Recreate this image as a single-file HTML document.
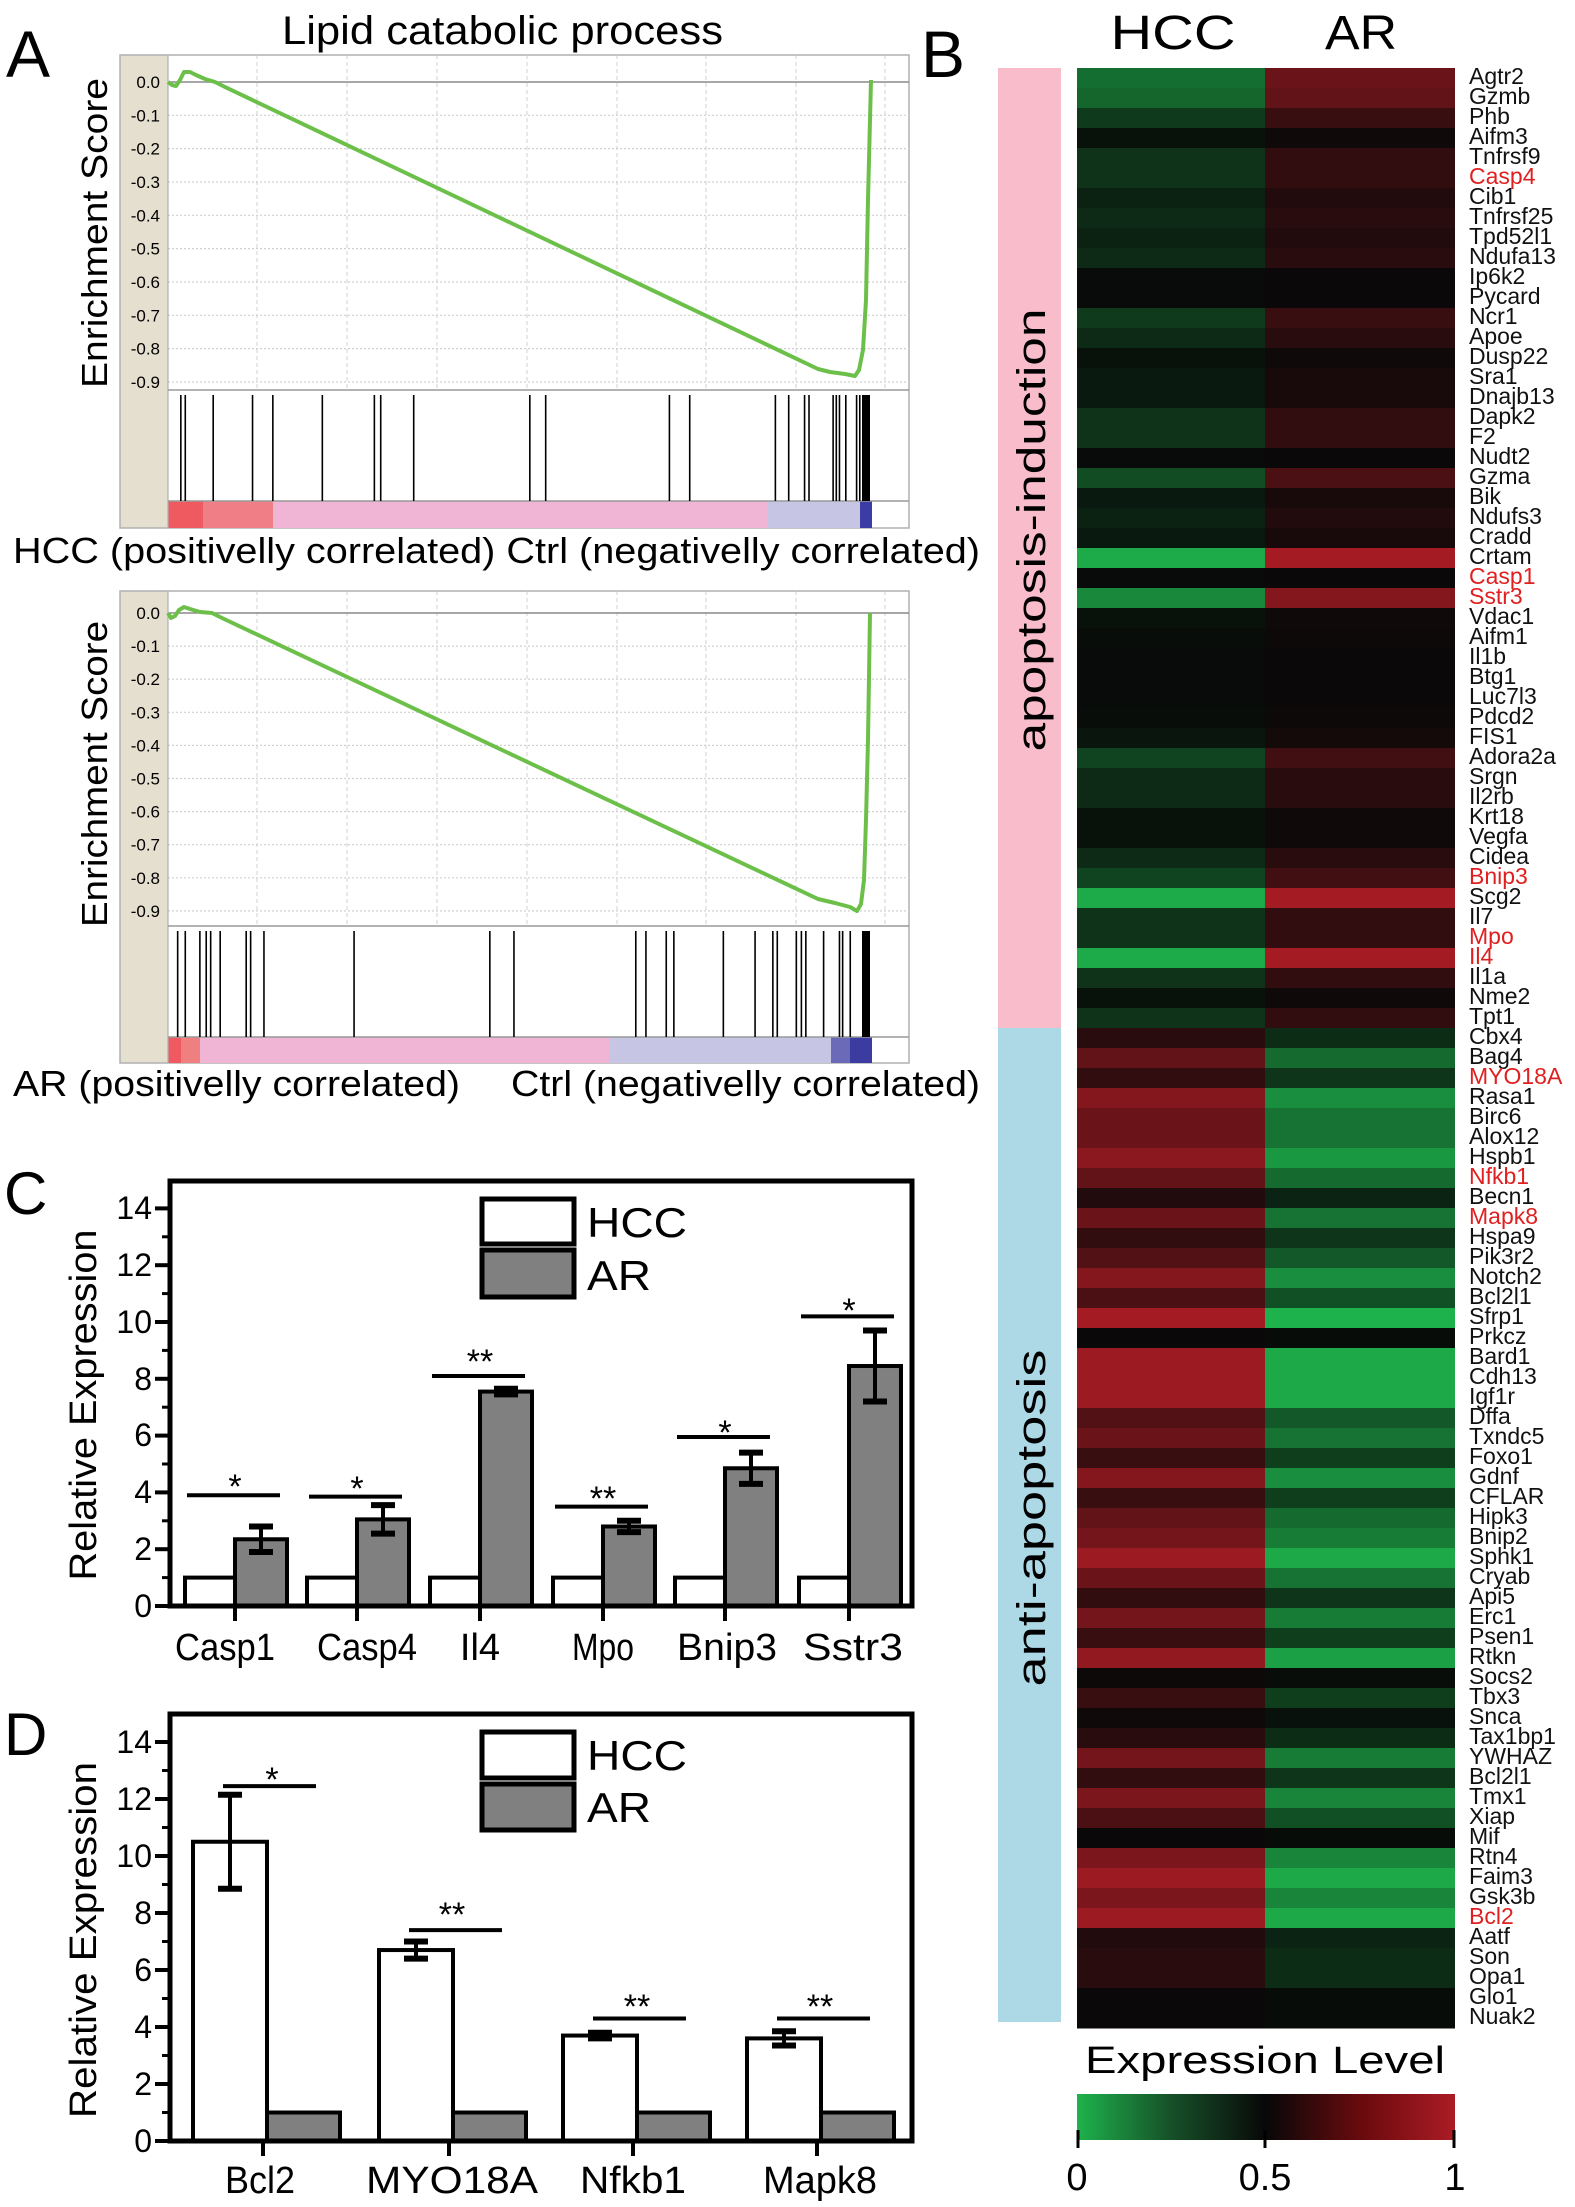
<!DOCTYPE html>
<html><head><meta charset="utf-8">
<style>
html,body{margin:0;padding:0;background:#fff;}
svg{display:block;}
text{font-family:"Liberation Sans",Arial,sans-serif;}
</style></head>
<body>
<svg id="s" width="1575" height="2207" viewBox="0 0 1575 2207" xmlns="http://www.w3.org/2000/svg">
<rect width="1575" height="2207" fill="#fff"/>
<g id="gsea"></g>
<g id="heat"></g>
<g id="bars"></g>

<!-- Panel letters -->
<text x="6" y="77" font-size="66">A</text>
<text x="921" y="77" font-size="66">B</text>
<text x="4" y="1214" font-size="60">C</text>
<text x="4" y="1755" font-size="60">D</text>

<!-- GSEA texts -->
<text x="282" y="44" font-size="40" textLength="441" lengthAdjust="spacingAndGlyphs">Lipid catabolic process</text>
<text transform="translate(107,233) rotate(-90)" text-anchor="middle" font-size="36" textLength="310" lengthAdjust="spacingAndGlyphs">Enrichment Score</text>
<text transform="translate(107,774) rotate(-90)" text-anchor="middle" font-size="36" textLength="306" lengthAdjust="spacingAndGlyphs">Enrichment Score</text>
<text x="13" y="563" font-size="36" textLength="967" lengthAdjust="spacingAndGlyphs">HCC (positivelly correlated) Ctrl (negativelly correlated)</text>
<text x="13" y="1096" font-size="36" textLength="447" lengthAdjust="spacingAndGlyphs">AR (positivelly correlated)</text>
<text x="511" y="1096" font-size="36" textLength="469" lengthAdjust="spacingAndGlyphs">Ctrl (negativelly correlated)</text>
<g font-size="17" text-anchor="end" id="esTicks"></g>

<!-- Heatmap texts -->
<text x="1173" y="49" font-size="48" text-anchor="middle" textLength="125" lengthAdjust="spacingAndGlyphs">HCC</text>
<text x="1361" y="49" font-size="48" text-anchor="middle" textLength="72" lengthAdjust="spacingAndGlyphs">AR</text>
<text transform="translate(1045,530) rotate(-90)" text-anchor="middle" font-size="40" textLength="443" lengthAdjust="spacingAndGlyphs">apoptosis-induction</text>
<text transform="translate(1045,1518) rotate(-90)" text-anchor="middle" font-size="40" textLength="337" lengthAdjust="spacingAndGlyphs">anti-apoptosis</text>
<text x="1469" y="64" font-size="23" fill="#111" style="line-height:20px"><tspan x="1469" dy="20">Agtr2</tspan><tspan x="1469" dy="20">Gzmb</tspan><tspan x="1469" dy="20">Phb</tspan><tspan x="1469" dy="20">Aifm3</tspan><tspan x="1469" dy="20">Tnfrsf9</tspan><tspan x="1469" dy="20" fill="#e02020">Casp4</tspan><tspan x="1469" dy="20">Cib1</tspan><tspan x="1469" dy="20">Tnfrsf25</tspan><tspan x="1469" dy="20">Tpd52l1</tspan><tspan x="1469" dy="20">Ndufa13</tspan><tspan x="1469" dy="20">Ip6k2</tspan><tspan x="1469" dy="20">Pycard</tspan><tspan x="1469" dy="20">Ncr1</tspan><tspan x="1469" dy="20">Apoe</tspan><tspan x="1469" dy="20">Dusp22</tspan><tspan x="1469" dy="20">Sra1</tspan><tspan x="1469" dy="20">Dnajb13</tspan><tspan x="1469" dy="20">Dapk2</tspan><tspan x="1469" dy="20">F2</tspan><tspan x="1469" dy="20">Nudt2</tspan><tspan x="1469" dy="20">Gzma</tspan><tspan x="1469" dy="20">Bik</tspan><tspan x="1469" dy="20">Ndufs3</tspan><tspan x="1469" dy="20">Cradd</tspan><tspan x="1469" dy="20">Crtam</tspan><tspan x="1469" dy="20" fill="#e02020">Casp1</tspan><tspan x="1469" dy="20" fill="#e02020">Sstr3</tspan><tspan x="1469" dy="20">Vdac1</tspan><tspan x="1469" dy="20">Aifm1</tspan><tspan x="1469" dy="20">Il1b</tspan><tspan x="1469" dy="20">Btg1</tspan><tspan x="1469" dy="20">Luc7l3</tspan><tspan x="1469" dy="20">Pdcd2</tspan><tspan x="1469" dy="20">FIS1</tspan><tspan x="1469" dy="20">Adora2a</tspan><tspan x="1469" dy="20">Srgn</tspan><tspan x="1469" dy="20">Il2rb</tspan><tspan x="1469" dy="20">Krt18</tspan><tspan x="1469" dy="20">Vegfa</tspan><tspan x="1469" dy="20">Cidea</tspan><tspan x="1469" dy="20" fill="#e02020">Bnip3</tspan><tspan x="1469" dy="20">Scg2</tspan><tspan x="1469" dy="20">Il7</tspan><tspan x="1469" dy="20" fill="#e02020">Mpo</tspan><tspan x="1469" dy="20" fill="#e02020">Il4</tspan><tspan x="1469" dy="20">Il1a</tspan><tspan x="1469" dy="20">Nme2</tspan><tspan x="1469" dy="20">Tpt1</tspan><tspan x="1469" dy="20">Cbx4</tspan><tspan x="1469" dy="20">Bag4</tspan><tspan x="1469" dy="20" fill="#e02020">MYO18A</tspan><tspan x="1469" dy="20">Rasa1</tspan><tspan x="1469" dy="20">Birc6</tspan><tspan x="1469" dy="20">Alox12</tspan><tspan x="1469" dy="20">Hspb1</tspan><tspan x="1469" dy="20" fill="#e02020">Nfkb1</tspan><tspan x="1469" dy="20">Becn1</tspan><tspan x="1469" dy="20" fill="#e02020">Mapk8</tspan><tspan x="1469" dy="20">Hspa9</tspan><tspan x="1469" dy="20">Pik3r2</tspan><tspan x="1469" dy="20">Notch2</tspan><tspan x="1469" dy="20">Bcl2l1</tspan><tspan x="1469" dy="20">Sfrp1</tspan><tspan x="1469" dy="20">Prkcz</tspan><tspan x="1469" dy="20">Bard1</tspan><tspan x="1469" dy="20">Cdh13</tspan><tspan x="1469" dy="20">Igf1r</tspan><tspan x="1469" dy="20">Dffa</tspan><tspan x="1469" dy="20">Txndc5</tspan><tspan x="1469" dy="20">Foxo1</tspan><tspan x="1469" dy="20">Gdnf</tspan><tspan x="1469" dy="20">CFLAR</tspan><tspan x="1469" dy="20">Hipk3</tspan><tspan x="1469" dy="20">Bnip2</tspan><tspan x="1469" dy="20">Sphk1</tspan><tspan x="1469" dy="20">Cryab</tspan><tspan x="1469" dy="20">Api5</tspan><tspan x="1469" dy="20">Erc1</tspan><tspan x="1469" dy="20">Psen1</tspan><tspan x="1469" dy="20">Rtkn</tspan><tspan x="1469" dy="20">Socs2</tspan><tspan x="1469" dy="20">Tbx3</tspan><tspan x="1469" dy="20">Snca</tspan><tspan x="1469" dy="20">Tax1bp1</tspan><tspan x="1469" dy="20">YWHAZ</tspan><tspan x="1469" dy="20">Bcl2l1</tspan><tspan x="1469" dy="20">Tmx1</tspan><tspan x="1469" dy="20">Xiap</tspan><tspan x="1469" dy="20">Mif</tspan><tspan x="1469" dy="20">Rtn4</tspan><tspan x="1469" dy="20">Faim3</tspan><tspan x="1469" dy="20">Gsk3b</tspan><tspan x="1469" dy="20" fill="#e02020">Bcl2</tspan><tspan x="1469" dy="20">Aatf</tspan><tspan x="1469" dy="20">Son</tspan><tspan x="1469" dy="20">Opa1</tspan><tspan x="1469" dy="20">Glo1</tspan><tspan x="1469" dy="20">Nuak2</tspan></text>
<text x="1265" y="2073" font-size="38" text-anchor="middle" textLength="360" lengthAdjust="spacingAndGlyphs">Expression Level</text>
<text x="1077" y="2190" font-size="38" text-anchor="middle">0</text>
<text x="1265" y="2190" font-size="38" text-anchor="middle">0.5</text>
<text x="1455" y="2190" font-size="38" text-anchor="middle">1</text>

<!-- Bar chart texts C -->
<g font-size="32" text-anchor="end">
<text x="152" y="1617">0</text><text x="152" y="1560">2</text><text x="152" y="1503">4</text><text x="152" y="1446">6</text><text x="152" y="1390">8</text><text x="152" y="1333">10</text><text x="152" y="1276">12</text><text x="152" y="1219">14</text>
<text x="152" y="2152">0</text><text x="152" y="2095">2</text><text x="152" y="2038">4</text><text x="152" y="1981">6</text><text x="152" y="1924">8</text><text x="152" y="1867">10</text><text x="152" y="1810">12</text><text x="152" y="1753">14</text>
</g>
<text transform="translate(96,1405) rotate(-90)" text-anchor="middle" font-size="38" textLength="351" lengthAdjust="spacingAndGlyphs">Relative  Expression</text>
<text transform="translate(96,1940) rotate(-90)" text-anchor="middle" font-size="38" textLength="356" lengthAdjust="spacingAndGlyphs">Relative  Expression</text>
<g font-size="38" text-anchor="middle">
<text x="225" y="1660" textLength="100" lengthAdjust="spacingAndGlyphs">Casp1</text>
<text x="367" y="1660" textLength="100" lengthAdjust="spacingAndGlyphs">Casp4</text>
<text x="480" y="1660">Il4</text>
<text x="603" y="1660" textLength="62" lengthAdjust="spacingAndGlyphs">Mpo</text>
<text x="727" y="1660" textLength="100" lengthAdjust="spacingAndGlyphs">Bnip3</text>
<text x="853" y="1660" textLength="100" lengthAdjust="spacingAndGlyphs">Sstr3</text>
<text x="260" y="2193" textLength="70" lengthAdjust="spacingAndGlyphs">Bcl2</text>
<text x="452" y="2193" textLength="172" lengthAdjust="spacingAndGlyphs">MYO18A</text>
<text x="633" y="2193" textLength="106" lengthAdjust="spacingAndGlyphs">Nfkb1</text>
<text x="820" y="2193" textLength="114" lengthAdjust="spacingAndGlyphs">Mapk8</text>
</g>
<g font-size="42">
<text x="587" y="1237" textLength="100" lengthAdjust="spacingAndGlyphs">HCC</text>
<text x="587" y="1290" textLength="64" lengthAdjust="spacingAndGlyphs">AR</text>
<text x="587" y="1770" textLength="100" lengthAdjust="spacingAndGlyphs">HCC</text>
<text x="587" y="1822" textLength="64" lengthAdjust="spacingAndGlyphs">AR</text>
</g>
<g font-size="34" text-anchor="middle" id="stars">
<text x="235" y="1498">*</text>
<text x="357" y="1500">*</text>
<text x="480" y="1373">**</text>
<text x="603" y="1510">**</text>
<text x="725" y="1444">*</text>
<text x="849" y="1322">*</text>
<text x="272" y="1791">*</text>
<text x="452" y="1926">**</text>
<text x="637" y="2018">**</text>
<text x="820" y="2018">**</text>
</g>
</svg>
<script>
var NS="http://www.w3.org/2000/svg";
function el(p,t,a){var e=document.createElementNS(NS,t);for(var k in a)e.setAttribute(k,a[k]);p.appendChild(e);return e;}
// ---------- GSEA ----------
var G=document.getElementById('gsea');
function gsea(top,zero,scale,esBot,hitTop,cbTop,cbBot,pts,hits,cb){
  // beige strip
  el(G,'rect',{x:120,y:top,width:48,height:cbBot-top,fill:'#e4dfcf'});
  el(G,'rect',{x:120,y:top,width:789,height:cbBot-top,fill:'none',stroke:'#b0b0b0','stroke-width':1.5});
  // color bar
  cb.forEach(function(c){el(G,'rect',{x:c[0],y:cbTop,width:c[1]-c[0],height:cbBot-cbTop,fill:c[2]});});
  // grids
  var vx=[257,347,437,527,617,706,796,885];
  vx.forEach(function(x){el(G,'line',{x1:x,y1:top,x2:x,y2:esBot,stroke:'#d0d0d0','stroke-dasharray':'4,3','stroke-width':1});});
  for(var i=1;i<=9;i++){var y=zero+i*0.1*scale;el(G,'line',{x1:168,y1:y,x2:909,y2:y,stroke:'#d0d0d0','stroke-dasharray':'2,2','stroke-width':1.2});}
  el(G,'line',{x1:168,y1:zero,x2:909,y2:zero,stroke:'#8a8a8a','stroke-width':1.5});
  el(G,'line',{x1:168,y1:top,x2:168,y2:cbBot,stroke:'#b0b0b0','stroke-width':1.2});
  el(G,'line',{x1:168,y1:esBot,x2:909,y2:esBot,stroke:'#999','stroke-width':1.5});
  el(G,'line',{x1:168,y1:cbTop,x2:909,y2:cbTop,stroke:'#999','stroke-width':1.5});
  hits.forEach(function(x){el(G,'line',{x1:x,y1:hitTop,x2:x,y2:cbTop,stroke:'#000','stroke-width':1.6});});
  el(G,'rect',{x:862,y:hitTop,width:8,height:cbTop-hitTop,fill:'#000'});
  el(G,'polyline',{points:pts.map(function(p){return p.join(',');}).join(' '),fill:'none',stroke:'#6cc04a','stroke-width':4,'stroke-linejoin':'round'});
  var T=document.getElementById('esTicks');
  for(var i=0;i<=9;i++){var t=el(T,'text',{x:160,y:zero+i*0.1*scale+6});t.textContent=(i==0?'0.0':'-0.'+i);}
}
var s1=[285,292,336,398,430,508,590,600,652,835,860,1055,1087,1222,1243,1268,1275,1313,1318,1323,1333,1350,1355].map(function(x){return x/1.576;});
gsea(55,82,333.3,390,395,501,528,
 [[168,82],[172,85],[176,86],[180,80],[184,72],[190,72],[196,75],[205,79],[215,82],[225,87],[818,369],[830,372],[845,374],[855,376],[859,370],[863,350],[866,300],[868,200],[871,80]],
 s1,[[168,288,'#ef5a60'],[288,273,'#f08080'],[203,273,'#f07e86'],[273,868,'#f0b4d4'],[768,860,'#c6c6e4'],[860,872,'#3c3ca6']]);
var s2=[280,292,315,325,332,347,388,395,416,558,772,810,1002,1018,1050,1062,1140,1190,1218,1225,1255,1263,1270,1298,1323,1328,1340].map(function(x){return x/1.576;});
gsea(591,613,331,926,931,1037,1063,
 [[168,613],[171,618],[175,616],[179,610],[184,607],[190,609],[200,612],[212,613],[222,618],[818,899],[835,903],[850,907],[857,911],[861,904],[864,880],[866,820],[868,740],[870,613]],
 s2,[[168,181,'#ef5a60'],[181,200,'#f08080'],[200,609,'#f0b4d4'],[609,831,'#c6c6e4'],[831,850,'#6a6ab8'],[850,872,'#3c3ca0']]);
// fix overlapping first colorbar ordering
// ---------- Heatmap ----------
var H=document.getElementById('heat');
el(H,'rect',{x:998,y:68,width:63,height:960,fill:'#f8bccb'});
el(H,'rect',{x:998,y:1028,width:63,height:994,fill:'#add8e6'});
var ind=[.6,.55,.3,.05,.25,.25,.15,.2,.15,.2,.02,.02,.3,.2,.05,.1,.1,.25,.25,.02,.4,.1,.15,.1,.95,.02,.75,.05,.03,.02,.02,.02,.03,.08,.35,.2,.2,.05,.05,.2,.35,.95,.25,.25,.95,.25,.05,.25];
var anti=[.2,.55,.25,.75,.6,.6,.8,.55,.15,.6,.25,.45,.75,.4,.95,.02,.9,.9,.9,.45,.6,.3,.75,.3,.55,.65,.9,.6,.25,.65,.3,.85,.03,.3,.05,.2,.65,.25,.7,.4,.02,.7,.9,.7,.9,.15,.2,.2,.02,.02];
var K=[8,8,8],GR=[30,178,76],RD=[172,28,36];
function mix(c,i){return 'rgb('+[0,1,2].map(function(j){return Math.round(K[j]+(c[j]-K[j])*i);}).join(',')+')';}
var y=68;
ind.forEach(function(v){el(H,'rect',{x:1077,y:y,width:189,height:20.5,fill:mix(GR,v)});el(H,'rect',{x:1265,y:y,width:190,height:20.5,fill:mix(RD,v)});y+=20;});
anti.forEach(function(v){el(H,'rect',{x:1077,y:y,width:189,height:20.5,fill:mix(RD,v)});el(H,'rect',{x:1265,y:y,width:190,height:20.5,fill:mix(GR,Math.min(1,v*1.05))});y+=20;});
var d=el(H,'defs',{});var lg=el(d,'linearGradient',{id:'cbg',x1:0,x2:1,y1:0,y2:0});
[[0,'rgb(30,178,76)'],[0.25,'rgb(22,80,40)'],[0.5,'rgb(8,8,8)'],[0.75,'rgb(105,10,14)'],[1,'rgb(172,28,36)']].forEach(function(s){el(lg,'stop',{offset:s[0],'stop-color':s[1]});});
el(H,'rect',{x:1077,y:2094,width:378,height:46,fill:'url(#cbg)'});
[1078,1265,1454].forEach(function(x){el(H,'line',{x1:x,y1:2130,x2:x,y2:2148,stroke:'#000','stroke-width':3});});
el(H,'line',{x1:1077,y1:2147,x2:1455,y2:2147,stroke:'#000','stroke-width':0});
// ---------- Bars ----------
var B=document.getElementById('bars');
function axes(top,y0,unit,ticks){
  el(B,'rect',{x:170,y:top,width:742,height:y0-top,fill:'none',stroke:'#000','stroke-width':5});
  for(var v=0;v<=14;v++){var yy=y0-v*unit;el(B,'line',{x1:v%2?162:155,y1:yy,x2:170,y2:yy,stroke:'#000','stroke-width':v%2?3:4});}
  ticks.forEach(function(x){el(B,'line',{x1:x,y1:y0,x2:x,y2:y0+15,stroke:'#000','stroke-width':4});});
}
function bar(x1,x2,y0,yv,fill){el(B,'rect',{x:x1,y:yv,width:x2-x1,height:y0-yv,fill:fill,stroke:'#000','stroke-width':4});}
function err(x,yc,e,unit){var a=yc-e*unit,b=yc+e*unit;el(B,'line',{x1:x,y1:a,x2:x,y2:b,stroke:'#000','stroke-width':4});el(B,'line',{x1:x-12,y1:a,x2:x+12,y2:a,stroke:'#000','stroke-width':6});el(B,'line',{x1:x-12,y1:b,x2:x+12,y2:b,stroke:'#000','stroke-width':6});}
function sig(x1,x2,y){el(B,'line',{x1:x1,y1:y,x2:x2,y2:y,stroke:'#000','stroke-width':4});}
// C
var y0=1606,u=28.4,cc=[235,357,480,603,725,849],ar=[2.35,3.05,7.55,2.8,4.85,8.45],er=[.45,.5,.1,.2,.55,1.25],sg=[3.9,3.85,8.1,3.5,5.95,10.2];
cc.forEach(function(c,i){bar(c-50,c,y0,y0-u,'#fff');bar(c,c+52,y0,y0-u*ar[i],'#808080');err(c+26,y0-u*ar[i],er[i],u);sig(c-48,c+45,y0-u*sg[i]);});
axes(1181,y0,u,cc);
bar(480,575,0,0,'#fff');
el(B,'rect',{x:482,y:1199,width:92,height:45,fill:'#fff',stroke:'#000','stroke-width':5});
el(B,'rect',{x:482,y:1250,width:92,height:47,fill:'#808080',stroke:'#000','stroke-width':5});
// D
y0=2141;u=28.5;cc=[263,449,633,817];var hc=[10.5,6.7,3.7,3.6],he=[1.65,.3,.1,.25],sd=[12.45,7.4,4.3,4.3];
cc.forEach(function(c,i){bar(c-70,c+4,y0,y0-u*hc[i],'#fff');bar(c+4,c+77,y0,y0-u,'#808080');err(c-33,y0-u*hc[i],he[i],u);sig(c-40,c+53,y0-u*sd[i]);});
axes(1714,y0,u,cc);
el(B,'rect',{x:482,y:1732,width:92,height:46,fill:'#fff',stroke:'#000','stroke-width':5});
el(B,'rect',{x:482,y:1784,width:92,height:46,fill:'#808080',stroke:'#000','stroke-width':5});
</script>
</body></html>
